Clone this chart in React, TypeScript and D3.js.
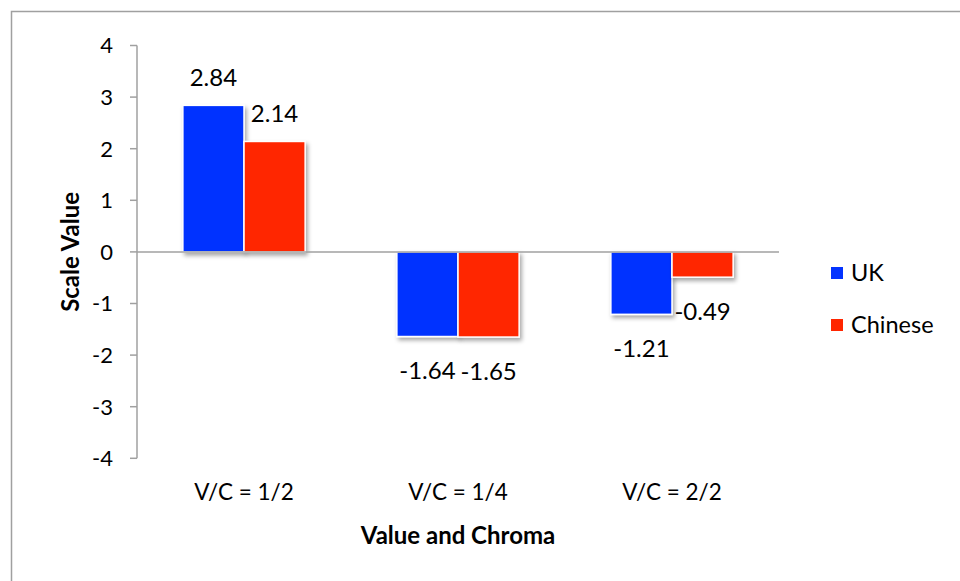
import React from "react";
import * as d3 from "d3";

const categories = ["V/C = 1/2", "V/C = 1/4", "V/C = 2/2"];
const seriesNames = ["UK", "Chinese"];
const ukValues = [2.84, -1.64, -1.21];
const chineseValues = [2.14, -1.65, -0.49];
const yTicks = [-4, -3, -2, -1, 0, 1, 2, 3, 4];
const colors = ["#0433ff", "#ff2600"];

const FONT = "Lato, 'Open Sans', sans-serif";

export default function App() {
  const W = 960, H = 581;
  const left = 137, right = 779, top = 45.5, bottom = 458.3;
  const y = d3.scaleLinear().domain([-4, 4]).range([bottom, top]);
  const x = d3.scaleBand<string>().domain(categories).range([left, right]).paddingInner(0).paddingOuter(0);
  const bw = x.bandwidth();
  const barW = bw / 3.5;
  const inner = d3.scaleBand<string>().domain(seriesNames).range([0.75 * barW, 2.75 * barW]);
  const series = [ukValues, chineseValues];

  return (
    <svg width={W} height={H} style={{ position: "absolute", left: 0, top: 0, background: "#fff" }}>
      <defs>
        <filter id="shadow" x="-20%" y="-20%" width="150%" height="150%">
          <feDropShadow dx="2" dy="3" stdDeviation="2" floodColor="#000" floodOpacity="0.35" />
        </filter>
      </defs>
      <rect x={11.5} y={11.5} width={W + 20} height={H + 20} fill="#fff" stroke="#a0a0a0" strokeWidth={1.5} />
      {/* y axis */}
      <line x1={left} x2={left} y1={top} y2={bottom} stroke="#a0a0a0" strokeWidth={1.5} />
      {yTicks.map((t) => (
        <g key={t}>
          <line x1={left - 7} x2={left} y1={y(t)} y2={y(t)} stroke="#a0a0a0" strokeWidth={1.5} />
          <text x={113} y={y(t)} dy="0.36em" textAnchor="end" fontFamily={FONT} fontSize={22} fill="#000">
            {t}
          </text>
        </g>
      ))}
      {/* bars */}
      {series.map((vals, si) =>
        vals.map((v, ci) => {
          const bx = (x(categories[ci]) as number) + (inner(seriesNames[si]) as number);
          const y0 = y(Math.max(0, v));
          const h = Math.abs(y(v) - y(0));
          return (
            <rect
              key={`${si}-${ci}`}
              x={bx}
              y={y0}
              width={inner.bandwidth()}
              height={h}
              fill={colors[si]}
              stroke="#fff"
              strokeWidth={1.5}
              filter="url(#shadow)"
            />
          );
        })
      )}
      {/* zero line */}
      <line x1={left} x2={right} y1={y(0)} y2={y(0)} stroke="#a0a0a0" strokeWidth={1.5} />
      {/* data labels */}
      {series.map((vals, si) =>
        vals.map((v, ci) => {
          const cx = (x(categories[ci]) as number) + (inner(seriesNames[si]) as number) + inner.bandwidth() / 2;
          const ly = v >= 0 ? y(v) - 28 : y(v) + 34;
          return (
            <text key={`l${si}-${ci}`} x={cx} y={ly} dy="0.36em" textAnchor="middle" fontFamily={FONT} fontSize={24} fill="#000">
              {v.toFixed(2)}
            </text>
          );
        })
      )}
      {/* category labels */}
      {categories.map((c) => (
        <text key={c} x={(x(c) as number) + bw / 2} y={492} dy="0.36em" textAnchor="middle" fontFamily={FONT} fontSize={22.5} fill="#000">
          {c}
        </text>
      ))}
      {/* axis titles */}
      <text x={458} y={535} dy="0.36em" textAnchor="middle" fontFamily={FONT} fontSize={24} fontWeight="bold" fill="#000">
        Value and Chroma
      </text>
      <text transform={`translate(70,${y(0)}) rotate(-90)`} dy="0.36em" textAnchor="middle" fontFamily={FONT} fontSize={24} fontWeight="bold" fill="#000">
        Scale Value
      </text>
      {/* legend */}
      {seriesNames.map((s, i) => (
        <g key={s} transform={`translate(831,${267 + i * 52})`}>
          <rect x={0} y={0} width={12} height={12} fill={colors[i]} />
          <text x={20} y={6} dy="0.36em" fontFamily={FONT} fontSize={23.5} fill="#000">
            {s}
          </text>
        </g>
      ))}
    </svg>
  );
}
